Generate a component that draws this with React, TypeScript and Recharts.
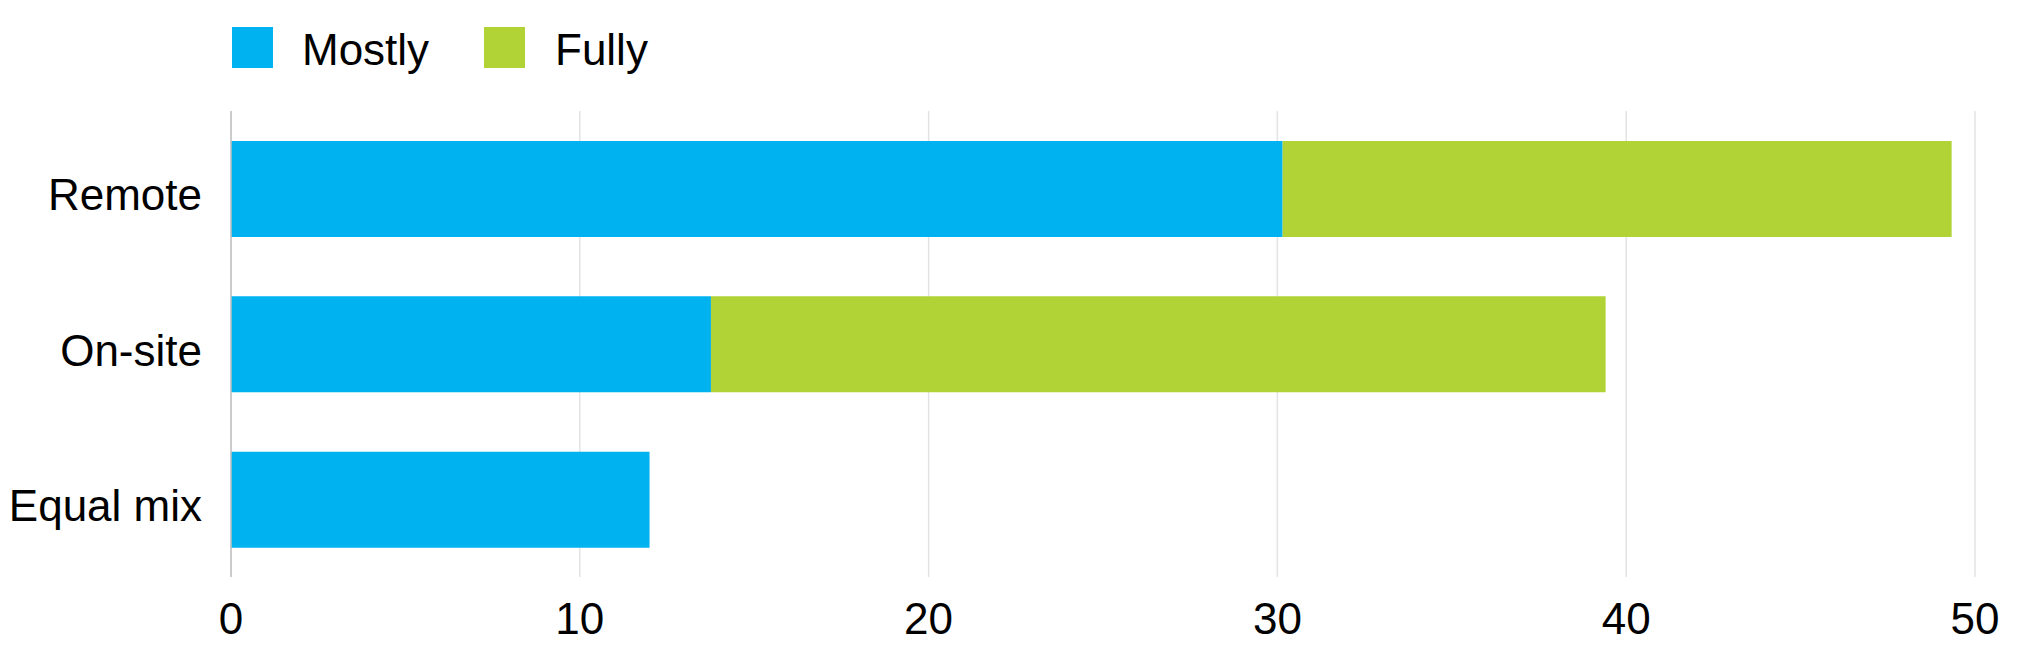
import React from "react";
import { BarChart, Bar, XAxis, YAxis, CartesianGrid } from "recharts";

const categories = ["Remote", "On-site", "Equal mix"];
const mostly = [30.15, 13.76, 12.0];
const fully = [19.18, 25.65, 0];
const xTicks = [0, 10, 20, 30, 40, 50];

const BLUE = "#00b3f0";
const GREEN = "#b2d335";
const FONT = "'Liberation Sans', Arial, Helvetica, sans-serif";

const data = categories.map((name, i) => ({ name, mostly: mostly[i], fully: fully[i] }));

// category labels sit a little below the bar centre in the reference
function CategoryTick(props: any) {
  const { x, y, payload } = props;
  return (
    <text x={x} y={y + 6} dy="0.355em" textAnchor="end" fontSize={44} fontFamily={FONT} fill="#000">
      {payload.value}
    </text>
  );
}

function ValueTick(props: any) {
  const { x, y, payload } = props;
  return (
    <text x={x} y={y} dy="0.71em" textAnchor="middle" fontSize={44} fontFamily={FONT} fill="#000">
      {payload.value}
    </text>
  );
}

function LegendBox() {
  const items = [
    { label: "Mostly", color: BLUE, sq: 232, tx: 302 },
    { label: "Fully", color: GREEN, sq: 484, tx: 555 },
  ];
  return (
    <>
      {items.map((it) => (
        <React.Fragment key={it.label}>
          <div style={{ position: "absolute", left: it.sq, top: 27, width: 41, height: 41, background: it.color }} />
          <div
            style={{
              position: "absolute",
              left: it.tx,
              top: 28,
              fontFamily: FONT,
              fontSize: 44,
              lineHeight: "44px",
              color: "#000",
              whiteSpace: "nowrap",
            }}
          >
            {it.label}
          </div>
        </React.Fragment>
      ))}
    </>
  );
}

export default function App() {
  return (
    <div style={{ position: "absolute", left: 0, top: 0, width: 2017, height: 657, background: "#fff" }}>
      <LegendBox />
      <BarChart
        width={2017}
        height={657}
        data={data}
        layout="vertical"
        margin={{ top: 111, right: 42, bottom: 0, left: 0 }}
      >
        <CartesianGrid horizontal={false} stroke="#e3e3e3" strokeWidth={1.5} />
        <XAxis
          type="number"
          domain={[0, 50]}
          ticks={xTicks}
          axisLine={false}
          tickLine={false}
          tickSize={0}
          tickMargin={26}
          height={80}
          tick={<ValueTick />}
          interval={0}
        />
        <YAxis
          type="category"
          dataKey="name"
          width={231}
          axisLine={{ stroke: "#c2c2c2", strokeWidth: 1.5 }}
          tickLine={false}
          tickSize={0}
          tickMargin={29}
          tick={<CategoryTick />}
          interval={0}
        />
        <Bar dataKey="mostly" stackId="a" fill={BLUE} barSize={96} isAnimationActive={false} />
        <Bar dataKey="fully" stackId="a" fill={GREEN} barSize={96} isAnimationActive={false} />
      </BarChart>
    </div>
  );
}
